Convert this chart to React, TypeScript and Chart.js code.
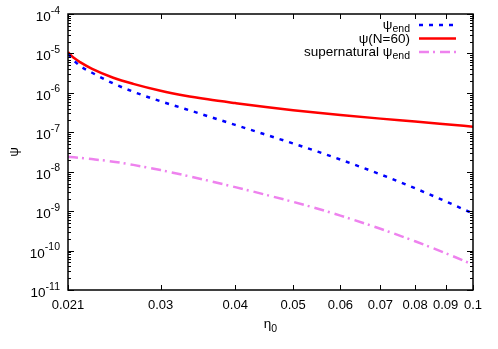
import React, { useEffect, useRef } from "react";
import { Chart, registerables } from "chart.js";

Chart.register(...registerables);

const etaValues = [0.021, 0.0215, 0.022, 0.023, 0.025, 0.027, 0.03, 0.033, 0.036, 0.04, 0.045, 0.05, 0.055, 0.06, 0.07, 0.08, 0.09, 0.1];
const psiEndValues = [9.7e-6, 6.54e-6, 4.8e-6, 3.28e-6, 1.73e-6, 1.07e-6, 6.11e-7, 3.9e-7, 2.56e-7, 1.54e-7, 8.69e-8, 5.2e-8, 3.22e-8, 2.03e-8, 8.55e-9, 3.8e-9, 1.77e-9, 8.71e-10];
const psiN60Values = [1.07e-5, 7.62e-6, 6.0e-6, 4.12e-6, 2.42e-6, 1.69e-6, 1.13e-6, 8.48e-7, 6.87e-7, 5.5e-7, 4.35e-7, 3.62e-7, 3.11e-7, 2.74e-7, 2.22e-7, 1.87e-7, 1.6e-7, 1.39e-7];
const psiSuperValues = [2.4e-8, 2.32e-8, 2.24e-8, 2.09e-8, 1.8e-8, 1.49e-8, 1.1e-8, 8.07e-9, 5.96e-9, 4.07e-9, 2.6e-9, 1.72e-9, 1.15e-9, 7.71e-10, 3.57e-10, 1.72e-10, 8.59e-11, 4.39e-11];

const xTickValues = [0.021, 0.03, 0.04, 0.05, 0.06, 0.07, 0.08, 0.09, 0.1];
const xTickLabels = ["0.021", "0.03", "0.04", "0.05", "0.06", "0.07", "0.08", "0.09", "0.1"];
const yExponents = [-4, -5, -6, -7, -8, -9, -10, -11];

// legend labels: [main text, subscript]
const seriesLabels: [string, string][] = [
  ["ψ", "end"],
  ["ψ(N=60)", ""],
  ["supernatural ψ", "end"],
];
const seriesColors = ["#0000ff", "#ff0000", "#ee82ee"];
const seriesDashes = [[4, 6], [], [10, 4, 2, 5]];

const FONT = '"Liberation Sans", Arial, Helvetica, sans-serif';

export default function App() {
  const ref = useRef<HTMLCanvasElement | null>(null);
  useEffect(() => {
    document.body.style.margin = "0";
    const canvas = ref.current;
    if (!canvas) return;

    const decor = {
      id: "decor",
      afterDraw(chart: any) {
        const ctx = chart.ctx as CanvasRenderingContext2D;
        const xs = chart.scales.x;
        const ys = chart.scales.y;
        const a = chart.chartArea;
        ctx.save();
        ctx.strokeStyle = "#000";
        ctx.fillStyle = "#000";
        ctx.lineWidth = 1.5;
        ctx.strokeRect(a.left, a.top, a.right - a.left, a.bottom - a.top);
        ctx.lineWidth = 1;
        // x ticks
        ctx.beginPath();
        xTickValues.forEach((v) => {
          const px = Math.round(xs.getPixelForValue(v)) + 0.5;
          ctx.moveTo(px, a.bottom);
          ctx.lineTo(px, a.bottom - 5);
          ctx.moveTo(px, a.top);
          ctx.lineTo(px, a.top + 5);
        });
        // y ticks
        yExponents.forEach((k) => {
          const py = Math.round(ys.getPixelForValue(Math.pow(10, k))) + 0.5;
          ctx.moveTo(a.left, py);
          ctx.lineTo(a.left + 6, py);
          ctx.moveTo(a.right, py);
          ctx.lineTo(a.right - 6, py);
          if (k > -11) {
            for (let m = 2; m <= 9; m++) {
              const pm = Math.round(ys.getPixelForValue(m * Math.pow(10, k - 1))) + 0.5;
              ctx.moveTo(a.left, pm);
              ctx.lineTo(a.left + 3, pm);
              ctx.moveTo(a.right, pm);
              ctx.lineTo(a.right - 3, pm);
            }
          }
        });
        ctx.stroke();
        // x labels
        ctx.font = `13px ${FONT}`;
        ctx.textAlign = "center";
        ctx.textBaseline = "middle";
        xTickValues.forEach((v, i) => {
          ctx.fillText(xTickLabels[i], xs.getPixelForValue(v), a.bottom + 15);
        });
        // y labels with superscripts
        yExponents.forEach((k) => {
          const py = ys.getPixelForValue(Math.pow(10, k));
          const exp = String(k);
          ctx.font = `10.5px ${FONT}`;
          const ew = ctx.measureText(exp).width;
          ctx.textAlign = "right";
          ctx.textBaseline = "alphabetic";
          ctx.fillText(exp, 60, py - 0.5);
          ctx.font = `13.5px ${FONT}`;
          ctx.fillText("10", 60 - ew, py + 7);
        });
        // axis titles
        ctx.font = `13.5px ${FONT}`;
        ctx.textAlign = "center";
        ctx.textBaseline = "middle";
        ctx.save();
        ctx.translate(14, (a.top + a.bottom) / 2);
        ctx.rotate(-Math.PI / 2);
        ctx.fillText("ψ", 0, 0);
        ctx.restore();
        {
          ctx.font = `13.5px ${FONT}`;
          const w1 = ctx.measureText("η").width;
          ctx.font = `10.5px ${FONT}`;
          const w2 = ctx.measureText("0").width;
          const cx = (a.left + a.right) / 2;
          const x0 = cx - (w1 + w2) / 2;
          ctx.textAlign = "left";
          ctx.textBaseline = "alphabetic";
          ctx.font = `13.5px ${FONT}`;
          ctx.fillText("η", x0, 328);
          ctx.font = `10.5px ${FONT}`;
          ctx.fillText("0", x0 + w1, 332);
        }
        // legend
        const rows = [25, 38.5, 52];
        seriesLabels.forEach((lab, i) => {
          const y = rows[i];
          ctx.textAlign = "left";
          ctx.textBaseline = "alphabetic";
          ctx.font = `13.5px ${FONT}`;
          const w1 = ctx.measureText(lab[0]).width;
          ctx.font = `10.5px ${FONT}`;
          const w2 = lab[1] ? ctx.measureText(lab[1]).width : 0;
          const xr = 410;
          const x0 = xr - w1 - w2;
          ctx.fillStyle = "#000";
          ctx.font = `13.5px ${FONT}`;
          ctx.fillText(lab[0], x0, y + 4);
          if (lab[1]) {
            ctx.font = `10.5px ${FONT}`;
            ctx.fillText(lab[1], x0 + w1, y + 7);
          }
          ctx.save();
          ctx.strokeStyle = seriesColors[i];
          ctx.lineWidth = 2.5;
          ctx.setLineDash(seriesDashes[i]);
          ctx.beginPath();
          ctx.moveTo(419, y);
          ctx.lineTo(456, y);
          ctx.stroke();
          ctx.restore();
        });
        ctx.restore();
      },
    };

    const mk = (vals: number[], i: number) => ({
      label: seriesLabels[i][0] + seriesLabels[i][1],
      data: etaValues.map((x, j) => ({ x, y: vals[j] })),
      borderColor: seriesColors[i],
      backgroundColor: seriesColors[i],
      borderWidth: 2.5,
      borderDash: seriesDashes[i],
      pointRadius: 0,
      cubicInterpolationMode: "monotone" as const,
      fill: false,
    });

    const chart = new Chart(canvas, {
      type: "line",
      data: {
        datasets: [mk(psiEndValues, 0), mk(psiN60Values, 1), mk(psiSuperValues, 2)],
      },
      options: {
        animation: false,
        responsive: true,
        maintainAspectRatio: false,
        layout: { padding: { left: 68, right: 25, top: 14, bottom: 59 } },
        plugins: { legend: { display: false }, tooltip: { enabled: false } },
        scales: {
          x: { type: "logarithmic", min: 0.021, max: 0.1, display: false },
          y: { type: "logarithmic", min: 1e-11, max: 1e-4, display: false },
        },
      },
      plugins: [decor],
    });
    return () => chart.destroy();
  }, []);
  return (
    <div style={{ position: "fixed", left: 0, top: 0, width: 498, height: 349, background: "#fff" }}>
      <canvas ref={ref} />
    </div>
  );
}
